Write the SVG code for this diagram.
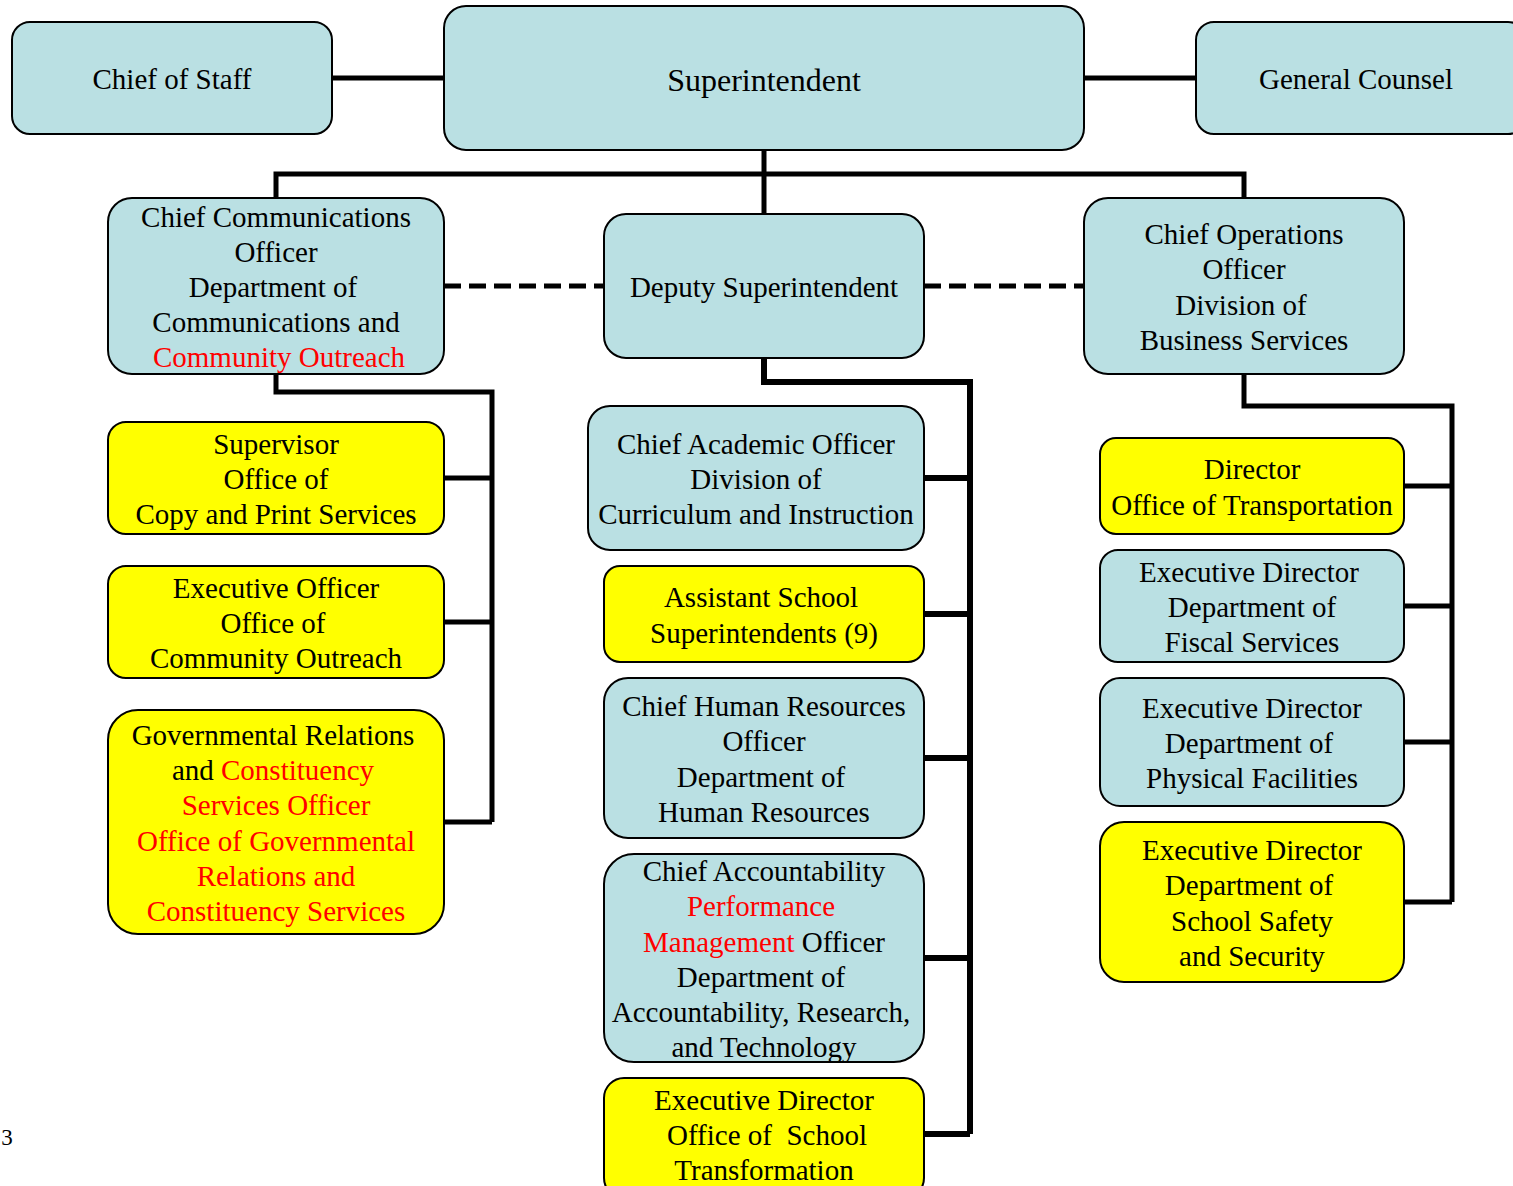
<svg xmlns="http://www.w3.org/2000/svg" width="1513" height="1186" viewBox="0 0 1513 1186">
<style>
.b{fill:#BAE0E3;stroke:#000;stroke-width:2}
.y{fill:#FFFF00;stroke:#000;stroke-width:2}
text{font-family:'Liberation Serif','DejaVu Serif',serif;font-size:29px;fill:#000;text-anchor:middle}
.r{fill:#FF0000}
.c{fill:none;stroke:#000;stroke-width:5}
.d{fill:none;stroke:#000;stroke-width:5;stroke-dasharray:17 8}
</style>
<rect width="1513" height="1186" fill="#fff"/>
<g id="connectors">
<path class="c" d="M332 78H444M1084 78H1196"/>
<path class="c" d="M764 150V214M276 198V174H1244V198"/>
<path class="d" d="M444 286H604M924 286H1084"/>
<path class="c" d="M276 374V392H492V822M444 478H492M444 622H492M444 822H492"/>
<path class="c" style="stroke-width:6" d="M764 358V382H970V1134M924 478H970M924 614H970M924 758H970M924 958H970M924 1134H970"/>
<path class="c" d="M1244 374V406H1452V902M1404 486H1452M1404 606H1452M1404 742H1452M1404 902H1452"/>
</g>
<g font-family="Liberation Serif, DejaVu Serif, serif">
<g id="chief-of-staff"><rect class="b" x="12" y="22" width="320" height="112" rx="18"/><text x="172" y="89">Chief of Staff</text></g>
<g id="superintendent"><rect class="b" x="444" y="6" width="640" height="144" rx="22"/><text x="764" y="91" style="font-size:32px">Superintendent</text></g>
<g id="general-counsel"><rect class="b" x="1196" y="22" width="330" height="112" rx="18"/><text x="1356" y="89">General Counsel</text></g>
<g id="cco"><rect class="b" x="108" y="198" width="336" height="176" rx="24"/>
<text x="276" y="227">Chief Communications</text><text x="276" y="262">Officer</text><text x="273" y="297">Department of</text><text x="276" y="332">Communications and</text><text x="279" y="367" class="r">Community Outreach</text></g>
<g id="deputy"><rect class="b" x="604" y="214" width="320" height="144" rx="22"/><text x="764" y="297">Deputy Superintendent</text></g>
<g id="coo"><rect class="b" x="1084" y="198" width="320" height="176" rx="24"/>
<text x="1244" y="244">Chief Operations</text><text x="1244" y="279">Officer</text><text x="1241" y="315">Division of</text><text x="1244" y="350">Business Services</text></g>
<g id="supervisor-copy"><rect class="y" x="108" y="422" width="336" height="112" rx="18"/>
<text x="276" y="454">Supervisor</text><text x="276" y="489">Office of</text><text x="276" y="524">Copy and Print Services</text></g>
<g id="exec-officer-outreach"><rect class="y" x="108" y="566" width="336" height="112" rx="18"/>
<text x="276" y="598">Executive Officer</text><text x="273" y="633">Office of</text><text x="276" y="668">Community Outreach</text></g>
<g id="gov-relations"><rect class="y" x="108" y="710" width="336" height="224" rx="30"/>
<text x="273" y="745">Governmental Relations</text>
<text x="273" y="780">and <tspan class="r">Constituency</tspan></text>
<text x="276" y="815" class="r">Services Officer</text>
<text x="276" y="851" class="r">Office of Governmental</text>
<text x="276" y="886" class="r">Relations and</text>
<text x="276" y="921" class="r">Constituency Services</text></g>
<g id="cao"><rect class="b" x="588" y="406" width="336" height="144" rx="22"/>
<text x="756" y="454">Chief Academic Officer</text><text x="756" y="489">Division of</text><text x="756" y="524">Curriculum and Instruction</text></g>
<g id="assistant-sups"><rect class="y" x="604" y="566" width="320" height="96" rx="16"/>
<text x="761" y="607">Assistant School</text><text x="764" y="643">Superintendents (9)</text></g>
<g id="chro"><rect class="b" x="604" y="678" width="320" height="160" rx="24"/>
<text x="764" y="716">Chief Human Resources</text><text x="764" y="751">Officer</text><text x="761" y="787">Department of</text><text x="764" y="822">Human Resources</text></g>
<g id="accountability"><rect class="b" x="604" y="854" width="320" height="208" rx="30"/>
<text x="764" y="881">Chief Accountability</text>
<text x="761" y="916" class="r">Performance</text>
<text x="764" y="952"><tspan class="r">Management</tspan> Officer</text>
<text x="761" y="987">Department of</text>
<text x="761" y="1022">Accountability, Research,</text>
<text x="764" y="1057">and Technology</text></g>
<g id="school-transformation"><rect class="y" x="604" y="1078" width="320" height="120" rx="20"/>
<text x="764" y="1110">Executive Director</text><text x="767" y="1145" xml:space="preserve" style="white-space:pre">Office of  School</text><text x="764" y="1180">Transformation</text></g>
<g id="transportation"><rect class="y" x="1100" y="438" width="304" height="96" rx="16"/>
<text x="1252" y="479">Director</text><text x="1252" y="515">Office of Transportation</text></g>
<g id="fiscal"><rect class="b" x="1100" y="550" width="304" height="112" rx="18"/>
<text x="1249" y="582">Executive Director</text><text x="1252" y="617">Department of</text><text x="1252" y="652">Fiscal Services</text></g>
<g id="facilities"><rect class="b" x="1100" y="678" width="304" height="128" rx="20"/>
<text x="1252" y="718">Executive Director</text><text x="1249" y="753">Department of</text><text x="1252" y="788">Physical Facilities</text></g>
<g id="safety"><rect class="y" x="1100" y="822" width="304" height="160" rx="24"/>
<text x="1252" y="860">Executive Director</text><text x="1249" y="895">Department of</text><text x="1252" y="931">School Safety</text><text x="1252" y="966">and Security</text></g>
<text x="7" y="1145" style="font-size:23px">3</text>
</g>
</svg>
